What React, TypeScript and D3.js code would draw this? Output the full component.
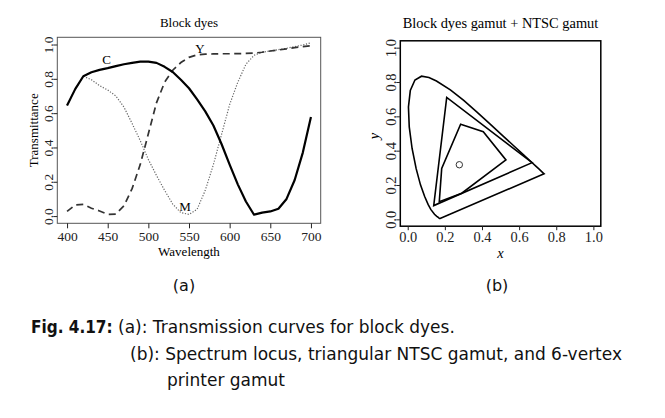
import { useEffect, useRef } from "react";
import * as d3 from "d3";

// (a) transmission curves, every 10 nm
const wavelengths = [
  400, 410, 420, 430, 440, 450, 460, 470, 480, 490, 500, 510, 520, 530, 540, 550,
  560, 570, 580, 590, 600, 610, 620, 630, 640, 650, 660, 670, 680, 690, 700,
];
const cyan = [
  0.645, 0.74, 0.815, 0.838, 0.852, 0.862, 0.874, 0.885, 0.893, 0.9, 0.9, 0.893,
  0.87, 0.84, 0.795, 0.745, 0.68, 0.61, 0.528, 0.42, 0.3, 0.185, 0.085, 0.008,
  0.02, 0.027, 0.043, 0.1, 0.21, 0.37, 0.577,
];
const magenta = [
  0.645, 0.74, 0.815, 0.795, 0.76, 0.735, 0.7, 0.635, 0.54, 0.44, 0.33, 0.237,
  0.15, 0.07, 0.02, 0.01, 0.04, 0.15, 0.3, 0.475, 0.65, 0.78, 0.885, 0.937, 0.955,
  0.962, 0.97, 0.978, 0.988, 0.997, 1.01,
];
const yellow = [
  0.027, 0.065, 0.068, 0.046, 0.03, 0.01, 0.012, 0.06, 0.16, 0.3, 0.48, 0.66, 0.78,
  0.85, 0.895, 0.925, 0.94, 0.944, 0.945, 0.946, 0.946, 0.947, 0.948, 0.95, 0.955,
  0.962, 0.968, 0.975, 0.982, 0.988, 0.993,
];
const curveLabels = [
  { name: "C", wl: 448.6, t: 0.914 },
  { name: "Y", wl: 563.5, t: 0.978 },
  { name: "M", wl: 545, t: 0.055 },
];
const xTicksA = [400, 450, 500, 550, 600, 650, 700];
const yTicks = [0, 0.2, 0.4, 0.6, 0.8, 1.0];

// (b) chromaticity diagram
const locusX = [
  0.1741, 0.1738, 0.1733, 0.1726, 0.1714, 0.1689, 0.1644, 0.1566, 0.144, 0.1241,
  0.1096, 0.0913, 0.0687, 0.0454, 0.0235, 0.0082, 0.0039, 0.0139, 0.0389, 0.0743,
  0.1142, 0.1547, 0.2296, 0.3016, 0.3731, 0.4441, 0.5125, 0.5752, 0.627, 0.6658,
  0.6915, 0.7079, 0.719, 0.726, 0.73, 0.7334, 0.7347,
];
const locusY = [
  0.005, 0.0049, 0.0048, 0.0048, 0.0051, 0.0069, 0.0109, 0.0177, 0.0297, 0.0578,
  0.0868, 0.1327, 0.2007, 0.295, 0.4127, 0.5384, 0.6548, 0.7502, 0.812, 0.8338,
  0.8262, 0.8059, 0.7543, 0.6923, 0.6245, 0.5547, 0.4866, 0.4242, 0.3725, 0.334,
  0.3083, 0.292, 0.2809, 0.274, 0.27, 0.2666, 0.2653,
];
const ntscX = [0.67, 0.21, 0.14];
const ntscY = [0.33, 0.71, 0.08];
const printerX = [0.285, 0.407, 0.529, 0.291, 0.17, 0.183];
const printerY = [0.554, 0.51, 0.346, 0.152, 0.103, 0.297];
const whitePoint = { x: 0.278, y: 0.318 };
const xTicksB = [0, 0.2, 0.4, 0.6, 0.8, 1.0];

const serif = "'Liberation Serif', 'DejaVu Serif', serif";
const sans = "'DejaVu Sans', sans-serif";

function styleAxis(g, size) {
  g.select(".domain").remove();
  g.attr("font-family", serif).attr("font-size", size).attr("color", "#222");
}

export default function App() {
  const ref = useRef(null);

  useEffect(() => {
    const svg = d3.select(ref.current);
    svg.selectAll("*").remove();
    const fmt = d3.format(".1f");

    // ---------- panel (a) ----------
    const xA = d3.scaleLinear().domain([388, 712]).range([57.3, 320.7]);
    const yA = d3.scaleLinear().domain([-0.042, 1.042]).range([223.3, 37.3]);
    const a = svg.append("g");

    a.append("text")
      .attr("x", 189)
      .attr("y", 27)
      .attr("text-anchor", "middle")
      .attr("font-family", serif)
      .attr("font-size", 13)
      .text("Block dyes");

    const line = (vals) =>
      d3
        .line()
        .x((d, i) => xA(wavelengths[i]))
        .y((d) => yA(d))(vals);

    a.append("path")
      .attr("d", line(magenta))
      .attr("fill", "none")
      .attr("stroke", "#666")
      .attr("stroke-width", 1.2)
      .attr("stroke-dasharray", "1.2,1.6");
    a.append("path")
      .attr("d", line(yellow))
      .attr("fill", "none")
      .attr("stroke", "#333")
      .attr("stroke-width", 1.7)
      .attr("stroke-dasharray", "7,4.5");
    a.append("path")
      .attr("d", line(cyan))
      .attr("fill", "none")
      .attr("stroke", "#000")
      .attr("stroke-width", 2.2)
      .attr("stroke-linejoin", "round");

    a.selectAll(".lbl")
      .data(curveLabels)
      .join("text")
      .attr("x", (d) => xA(d.wl))
      .attr("y", (d) => yA(d.t))
      .attr("dy", "0.35em")
      .attr("text-anchor", "middle")
      .attr("font-family", serif)
      .attr("font-size", 13)
      .text((d) => d.name);

    a.append("rect")
      .attr("x", 57.3)
      .attr("y", 37.3)
      .attr("width", 320.7 - 57.3)
      .attr("height", 223.3 - 37.3)
      .attr("fill", "none")
      .attr("stroke", "#555")
      .attr("stroke-width", 1);

    a.append("g")
      .attr("transform", "translate(0,223.3)")
      .call(d3.axisBottom(xA).tickValues(xTicksA).tickSize(5))
      .call((g) => styleAxis(g, 13.5))
      .call((g) => g.selectAll("text").attr("y", 17.8).attr("dy", 0));

    a.append("g")
      .attr("transform", "translate(57.3,0)")
      .call(d3.axisLeft(yA).tickValues(yTicks).tickSize(4).tickFormat(fmt))
      .call((g) => styleAxis(g, 13.5))
      .call((g) =>
        g
          .selectAll("text")
          .attr("transform", "rotate(-90)")
          .attr("x", 0)
          .attr("y", -4.5)
          .attr("dy", 0)
          .attr("text-anchor", "middle")
      );

    a.append("text")
      .attr("x", 189)
      .attr("y", 256)
      .attr("text-anchor", "middle")
      .attr("font-family", serif)
      .attr("font-size", 13)
      .text("Wavelength");
    a.append("text")
      .attr("transform", "translate(38,130.3) rotate(-90)")
      .attr("text-anchor", "middle")
      .attr("font-family", serif)
      .attr("font-size", 13)
      .text("Transmittance");

    // ---------- panel (b) ----------
    const xB = d3.scaleLinear().domain([-0.04, 1.04]).range([400.3, 600.8]);
    const yB = d3.scaleLinear().domain([-0.04, 1.04]).range([226.2, 40.8]);
    const b = svg.append("g");

    b.append("text")
      .attr("x", 500.5)
      .attr("y", 28)
      .attr("text-anchor", "middle")
      .attr("font-family", serif)
      .attr("font-size", 14.4)
      .text("Block dyes gamut + NTSC gamut");

    const poly = (xs, ys) =>
      d3
        .line()
        .x((d, i) => xB(xs[i]))
        .y((d, i) => yB(ys[i]))(xs) + "Z";

    [
      [locusX, locusY],
      [ntscX, ntscY],
      [printerX, printerY],
    ].forEach(([xs, ys]) =>
      b.append("path")
        .attr("d", poly(xs, ys))
        .attr("fill", "none")
        .attr("stroke", "#000")
        .attr("stroke-width", 1.6)
        .attr("stroke-linejoin", "miter")
    );

    b.append("circle")
      .attr("cx", xB(whitePoint.x))
      .attr("cy", yB(whitePoint.y))
      .attr("r", 3.2)
      .attr("fill", "none")
      .attr("stroke", "#333")
      .attr("stroke-width", 1);

    b.append("rect")
      .attr("x", 400.3)
      .attr("y", 40.8)
      .attr("width", 600.8 - 400.3)
      .attr("height", 226.2 - 40.8)
      .attr("fill", "none")
      .attr("stroke", "#000")
      .attr("stroke-width", 1.5);

    b.append("g")
      .attr("transform", "translate(0,226.2)")
      .call(d3.axisBottom(xB).tickValues(xTicksB).tickSize(4).tickFormat(fmt))
      .call((g) => styleAxis(g, 14.4))
      .call((g) => g.selectAll("text").attr("y", 15.8).attr("dy", 0));

    b.append("g")
      .attr("transform", "translate(400.3,0)")
      .call(d3.axisLeft(yB).tickValues(yTicks).tickSize(4).tickFormat(fmt))
      .call((g) => styleAxis(g, 14.4))
      .call((g) =>
        g
          .selectAll("text")
          .attr("transform", "rotate(-90)")
          .attr("x", 0)
          .attr("y", -4.8)
          .attr("dy", 0)
          .attr("text-anchor", "middle")
      );

    b.append("text")
      .attr("x", 500.5)
      .attr("y", 258)
      .attr("text-anchor", "middle")
      .attr("font-family", serif)
      .attr("font-style", "italic")
      .attr("font-size", 14.4)
      .text("x");
    b.append("text")
      .attr("transform", "translate(379,136) rotate(-90)")
      .attr("text-anchor", "middle")
      .attr("font-family", serif)
      .attr("font-style", "italic")
      .attr("font-size", 14.4)
      .text("y");

    // ---------- captions ----------
    const cap = svg.append("g").attr("font-family", sans).attr("fill", "#111");
    cap.append("text").attr("x", 184).attr("y", 291).attr("text-anchor", "middle").attr("font-size", 16).text("(a)");
    cap.append("text").attr("x", 497).attr("y", 291).attr("text-anchor", "middle").attr("font-size", 16).text("(b)");

    const l1 = cap.append("text").attr("x", 31).attr("y", 333).attr("font-size", 17);
    l1.append("tspan")
      .attr("font-weight", "bold")
      .attr("font-family", "'DejaVu Sans Condensed', 'DejaVu Sans', sans-serif")
      .text("Fig. 4.17:");
    l1.append("tspan").text(" (a): Transmission curves for block dyes.");
    cap.append("text")
      .attr("x", 130)
      .attr("y", 360)
      .attr("font-size", 17)
      .text("(b): Spectrum locus, triangular NTSC gamut, and 6-vertex");
    cap.append("text").attr("x", 167).attr("y", 386).attr("font-size", 17).text("printer gamut");
  }, []);

  return (
    <svg
      ref={ref}
      width={665}
      height={418}
      style={{ position: "absolute", left: 0, top: 0, background: "#fff" }}
    />
  );
}
